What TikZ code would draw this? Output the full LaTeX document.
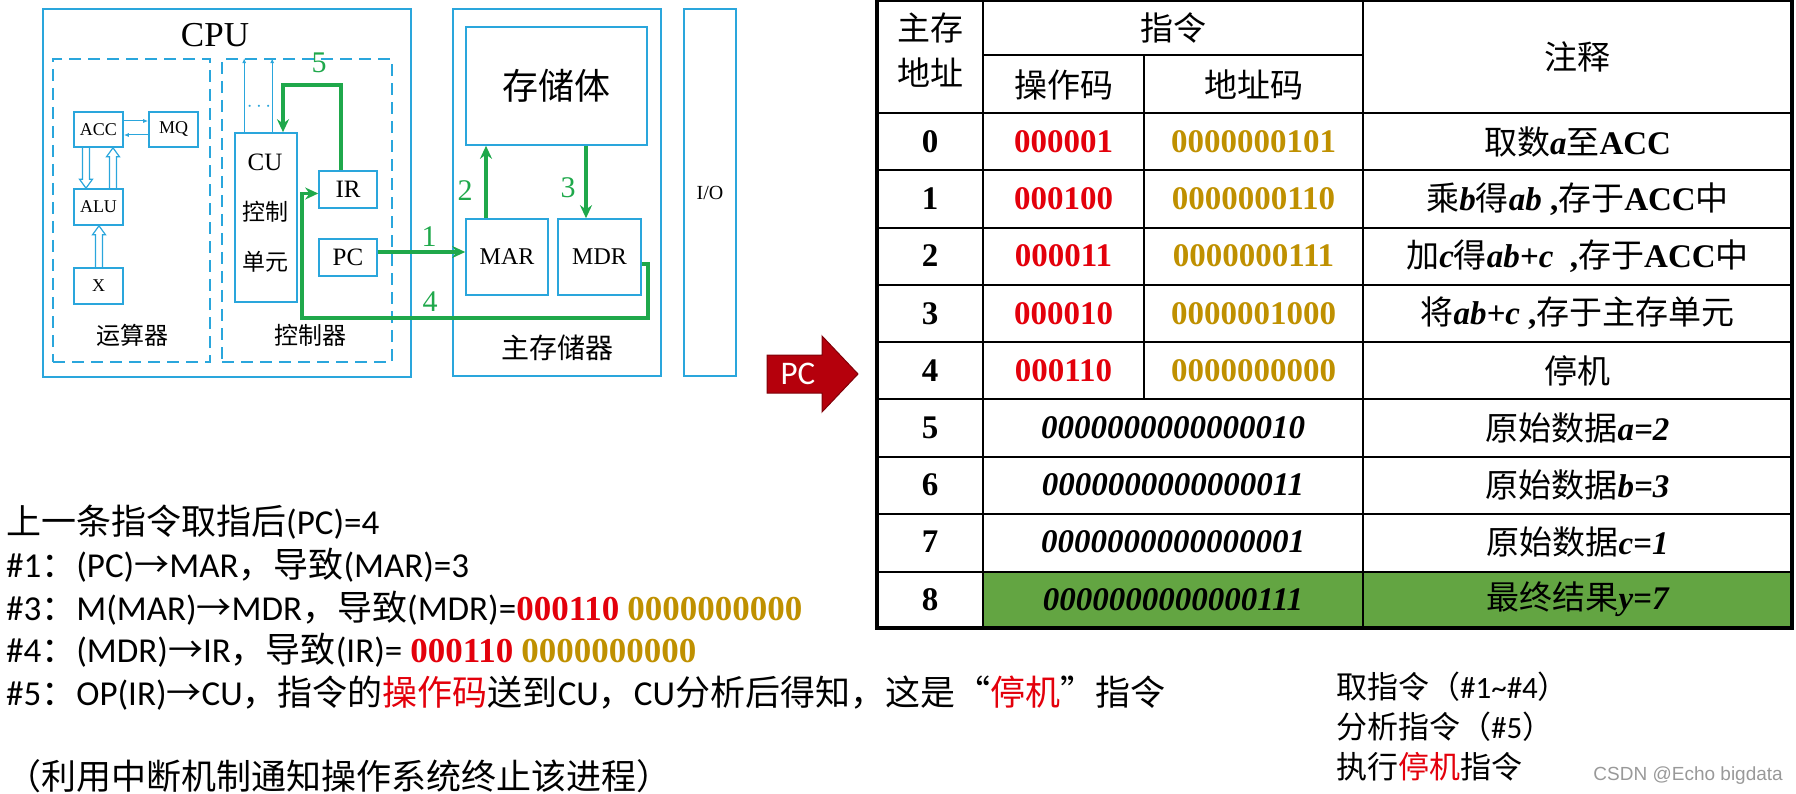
\documentclass[tikz,border=0pt]{standalone}
\usepackage{fontspec}
\setmainfont{Liberation Serif}
\newfontfamily\cjk{Noto Sans CJK SC}
\newfontfamily\calib{Carlito}
\newfontfamily\wmfont{Liberation Sans}
\usetikzlibrary{arrows.meta,calc}

\definecolor{boxblue}{HTML}{2AA6DC}
\definecolor{flowgreen}{HTML}{1FA84B}
\definecolor{opred}{HTML}{E3000B}
\definecolor{adgold}{HTML}{BF9000}
\definecolor{cellgreen}{HTML}{63A542}
\definecolor{pcred}{HTML}{B5000C}

\newcommand{\zh}[1]{{\cjk\mdseries #1}}
\newcommand{\opc}[1]{{\rmfamily\bfseries\color{opred}#1}}
\newcommand{\adc}[1]{{\rmfamily\bfseries\color{adgold}#1}}
\newcommand{\vb}[1]{{\bfseries\itshape #1}}
\newcommand{\sz}[1]{\fontsize{#1}{#1}\selectfont}

\begin{document}
\begin{tikzpicture}[x=1pt, y=-1pt,
  frame/.style={draw=boxblue, line width=2.8pt, inner sep=0pt},
  group/.style={draw=boxblue, line width=1.8pt, dash pattern=on 12pt off 7pt, inner sep=0pt},
  unit/.style={draw=boxblue, line width=1.6pt, inner sep=0pt, font=\sz{18}},
  reg/.style={draw=boxblue, line width=1.6pt, inner sep=0pt, font=\sz{25}},
  lbl/.style={inner sep=0pt},
  thinarr/.style={draw=boxblue, line width=1pt, -{Latex[length=5pt,width=4pt]}},
  hollow/.style={draw=boxblue, line width=1.2pt, to path={
    ($(\tikztostart)!3.5pt!90:(\tikztotarget)$)
    -- ($($(\tikztotarget)!9pt!(\tikztostart)$)!3.5pt!90:(\tikztotarget)$)
    -- ($($(\tikztotarget)!9pt!(\tikztostart)$)!6.5pt!90:(\tikztotarget)$)
    -- (\tikztotarget)
    -- ($($(\tikztotarget)!9pt!(\tikztostart)$)!6.5pt!-90:(\tikztotarget)$)
    -- ($($(\tikztotarget)!9pt!(\tikztostart)$)!3.5pt!-90:(\tikztotarget)$)
    -- ($(\tikztostart)!3.5pt!-90:(\tikztotarget)$)}},
  flow/.style={draw=flowgreen, line width=3.5pt, -{Stealth[length=13pt,width=12pt]}},
  flownum/.style={text=flowgreen, font=\sz{30}, inner sep=0pt},
  cell/.style={inner sep=0pt, font=\bfseries\sz{33}},
  line/.style={anchor=west, inner sep=0pt, font=\calib\sz{35}},
  note/.style={anchor=west, inner sep=0pt, font=\calib\sz{31}}]

\useasboundingbox (0,0) rectangle (1796,794);

% CPU
\node[frame, minimum width=368, minimum height=368] (cpu) at (227,193) {};
\node[lbl, font=\sz{35}] (cpulbl) at (215,35) {CPU};
\node[group, minimum width=157, minimum height=303] (alugrp) at (131.5,210.5) {};
\node[group, minimum width=170, minimum height=303] (cugrp) at (307,210.5) {};
\node[lbl, font=\cjk\sz{24}] (alulbl) at (132,335) {运算器};
\node[lbl, font=\cjk\sz{24}] (culbl) at (310,335) {控制器};

% arithmetic unit
\node[unit, minimum width=49, minimum height=35] (acc) at (98.5,129.5) {ACC};
\node[unit, minimum width=49, minimum height=35] (mq) at (173.5,129.5) {MQ};
\node[unit, minimum width=49, minimum height=36] (alu) at (98.5,207) {ALU};
\node[unit, minimum width=49, minimum height=36] (xreg) at (98.5,286) {X};
\draw[thinarr] ($(acc.east)+(0,-8.5)$) -- ($(mq.west)+(0,-8.5)$);
\draw[thinarr] ($(mq.west)+(0,5.5)$) -- ($(acc.east)+(0,5.5)$);
\coordinate (h1a) at ($(acc.south)+(-12.5,0)$);
\coordinate (h1b) at ($(alu.north)+(-12.5,0)$);
\coordinate (h2a) at ($(alu.north)+(14.5,0)$);
\coordinate (h2b) at ($(acc.south)+(14.5,0)$);
\coordinate (h3a) at ($(xreg.north)+(0.5,0)$);
\coordinate (h3b) at ($(alu.south)+(0.5,0)$);
\draw[hollow] (h1a) to (h1b);
\draw[hollow] (h2a) to (h2b);
\draw[hollow] (h3a) to (h3b);

% control unit
\node[reg, minimum width=62, minimum height=169] (cu) at (266,217.5) {};
\node[lbl, font=\sz{25}] (cu1) at (265,162) {CU};
\node[lbl, font=\cjk\sz{23}] (cu2) at (265,212) {控制};
\node[lbl, font=\cjk\sz{23}] (cu3) at (265,262) {单元};
\node[reg, minimum width=58, minimum height=37] (ir) at (348,189.5) {IR};
\node[reg, minimum width=58, minimum height=37] (pc) at (348,257.5) {PC};
\node[lbl, text=boxblue, font=\sz{20}] (dots) at (259,107) {$\cdots$};
\draw[thinarr] ($(cu.north west)+(10,0)$) -- ($(cu.north west|-cugrp.north)+(10,0)$);
\draw[thinarr] ($(cu.north west)+(38,0)$) -- ($(cu.north west|-cugrp.north)+(38,0)$);

% main memory and I/O
\node[frame, minimum width=208, minimum height=367] (mem) at (557,192.5) {};
\node[reg, font=\cjk\sz{36}, minimum width=181, minimum height=118] (body) at (556.5,86) {存储体};
\node[reg, font=\sz{24}, minimum width=82, minimum height=76] (mar) at (507,257) {MAR};
\node[reg, font=\sz{24}, minimum width=83, minimum height=76] (mdr) at (599.5,257) {MDR};
\node[lbl, font=\cjk\sz{28}] (memlbl) at (557,348) {主存储器};
\node[frame, font=\sz{20}, minimum width=52, minimum height=367] (io) at (710,192.5) {I/O};

% fetch steps
\coordinate (m1) at ($(mar.west)+(0,-5)$);
\draw[flow] (pc.east|-m1) -- (m1);
\draw[flow] ($(mar.north)+(-21,0)$) -- ($(mar.north|-body.south)+(-21,0)$);
\draw[flow] ($(mdr.north|-body.south)+(-13.5,0)$) -- ($(mdr.north)+(-13.5,0)$);
\draw[flow] ($(mdr.east)+(0,7)$) -- ++(6,0) -- ++(0,54) -| ($(ir.west)+(-16,4)$) -- ($(ir.west)+(0,4)$);
\draw[flow] ($(ir.north)+(-7,0)$) -- ++(0,-85) -| ($(cu.north)+(17,0)$);
\node[flownum] (f1) at (429,237) {1};
\node[flownum] (f2) at (465,191) {2};
\node[flownum] (f3) at (568,188) {3};
\node[flownum] (f4) at (430,302) {4};
\node[flownum] (f5) at (319,63) {5};

% PC pointer
\filldraw[fill=pcred, draw=pcred!70!black, line width=1pt]
  (767,355) -- (822,355) -- (822,336) -- (858,374) -- (822,412) -- (822,393) -- (767,393) -- cycle;
\node[lbl, text=white, font=\calib\sz{33}] (pctag) at (798,374) {PC};

% program table
\fill[cellgreen] (983,572) rectangle (1792,628);
\draw[line width=1.8pt] (877,1) -- (1792,1);
\draw[line width=1.8pt] (983,55) -- (1363,55);
\foreach \y in {113,170,228,285,342,399,457,514,572}
  \draw[line width=1.8pt] (877,\y) -- (1792,\y);
\draw[line width=1.8pt] (983,0) -- (983,628) (1363,0) -- (1363,628) (1144,55) -- (1144,399);
\draw[line width=3.5pt] (877,0) -- (877,628) -- (1792,628) -- (1792,0);

\node[cell] (hd1) at (930,28) {\zh{主存}};
\node[cell] (hd2) at (930,73) {\zh{地址}};
\node[cell] (hins) at (1173,28) {\zh{指令}};
\node[cell] (hop) at (1063.5,85) {\zh{操作码}};
\node[cell] (had) at (1253.5,85) {\zh{地址码}};
\node[cell] (hnt) at (1577.5,57) {\zh{注释}};

\foreach \i in {0,...,8}
  \node[cell] (r\i) at (930,{141.6+57.22*\i}) {\i};
\foreach \op/\ad [count=\i from 0] in {000001/0000000101,000100/0000000110,
    000011/0000000111,000010/0000001000,000110/0000000000} {
  \node[cell, text=opred] (op\i) at (1063.5,{141.6+57.22*\i}) {\op};
  \node[cell, text=adgold] (ad\i) at (1253.5,{141.6+57.22*\i}) {\ad};
}
\foreach \d [count=\i from 5] in {0000000000000010,0000000000000011,
    0000000000000001,0000000000000111}
  \node[cell, font=\bfseries\itshape\sz{33}] (dt\i) at (1173,{141.6+57.22*\i}) {\d};
\foreach \t [count=\i from 0] in {{\zh{取数}\vb{a}\zh{至}ACC},
    {\zh{乘}\vb{b}\zh{得}\vb{ab} ,\zh{存于}ACC\zh{中}},
    {\zh{加}\vb{c}\zh{得}\vb{ab+c}\ \ ,\zh{存于}ACC\zh{中}},
    {\zh{将}\vb{ab+c} ,\zh{存于主存单元}},
    {\zh{停机}},
    {\zh{原始数据}\vb{a=2}},
    {\zh{原始数据}\vb{b=3}},
    {\zh{原始数据}\vb{c=1}},
    {\zh{最终结果}\vb{y=7}}}
  \node[cell] (nt\i) at (1577.5,{141.6+57.22*\i}) {\t};

% explanation
\node[line] (l0) at (6,522) {\zh{上一条指令取指后}(PC)=4};
\node[line] (l1) at (6,565) {\#1\zh{：}(PC)\zh{→}MAR\zh{，导致}(MAR)=3};
\node[line] (l3) at (6,608) {\#3\zh{：}M(MAR)\zh{→}MDR\zh{，导致}(MDR)=\opc{000110} \adc{0000000000}};
\node[line] (l4) at (6,650) {\#4\zh{：}(MDR)\zh{→}IR\zh{，导致}(IR)= \opc{000110} \adc{0000000000}};
\node[line] (l5) at (6,693) {\#5\zh{：}OP(IR)\zh{→}CU\zh{，指令的}{\color{opred}\zh{操作码}}\zh{送到}CU\zh{，}CU\zh{分析后得知，这是“}{\color{opred}\zh{停机}}\zh{”指令}};
\node[line] (l6) at (6,776) {\zh{（利用中断机制通知操作系统终止该进程）}};

\node[note] (n1) at (1336,687) {\zh{取指令（}\#1\textasciitilde\#4\zh{）}};
\node[note] (n2) at (1336,727) {\zh{分析指令（}\#5\zh{）}};
\node[note] (n3) at (1336,767) {\zh{执行}{\color{opred}\zh{停机}}\zh{指令}};
\node[anchor=east, inner sep=0pt, font=\wmfont\sz{19}, text=black!40] (wm) at (1783,776) {CSDN @Echo bigdata};
\end{tikzpicture}
\end{document}
